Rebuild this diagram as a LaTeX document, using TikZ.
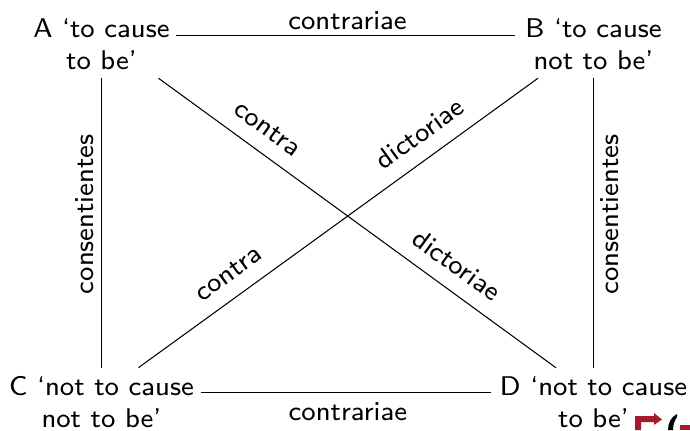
\documentclass[tikz,border=0pt]{standalone}
\usepackage{tikz}
\usetikzlibrary{calc}
\definecolor{logoRed}{HTML}{A6192E}
\tikzset{
  cornerBox/.style={
    align=center,
    font=\fontsize{7.7}{9.1}\selectfont\sffamily,
    inner xsep=0pt,
    inner ysep=0.08cm
  },
  squareEdge/.style={black, line width=0.3pt},
  edgeLabel/.style={font=\fontsize{7.7}{9.1}\selectfont\sffamily, inner sep=2pt},
  diagLabel/.style={edgeLabel, sloped, above, inner sep=4.2pt}
}

\begin{document}
\begin{tikzpicture}[x=1cm,y=1cm]
  \useasboundingbox (0,0) rectangle (6.9,4.3);
  \node[cornerBox] (a) at (1.015,3.86) {A `to cause\\to be'};
  \node[cornerBox] (b) at (5.935,3.86) {B `to cause\\not to be'};
  \node[cornerBox] (c) at (1.015,0.28) {C `not to cause\\not to be'};
  \node[cornerBox] (d) at (5.935,0.28) {D `not to cause\\to be'};

  \draw[squareEdge] ([xshift=0.06cm,yshift=0.085cm]a.east) -- node[edgeLabel, above, xshift=0.02cm, yshift=-0.02cm] {contrariae} ([xshift=-0.1cm,yshift=0.085cm]b.west);
  \draw[squareEdge] ([xshift=0.06cm,yshift=0.095cm]c.east) -- node[edgeLabel, below, xshift=0.02cm, yshift=-0.03cm] {contrariae} ([xshift=-0.08cm,yshift=0.095cm]d.west);
  \draw[squareEdge] (c.north) -- node[edgeLabel, sloped, above, pos=0.53] {consentientes} (a.south);
  \draw[squareEdge] (d.north) -- node[edgeLabel, sloped, below, pos=0.53] {consentientes} (b.south);

  \draw[squareEdge] ([xshift=0.57cm]a.south) -- node[diagLabel, pos=0.24] {contra}
    node[diagLabel, pos=0.714] {dictoriae} ([xshift=-0.375cm]d.north);
  \draw[squareEdge] ([xshift=-0.555cm]b.south) -- node[diagLabel, pos=0.26] {dictoriae}
    node[diagLabel, pos=0.74] {contra} ([xshift=0.37cm]c.north);

  % logo cut off by the page edge
  \fill[logoRed] (6.35,0) -- (6.35,0.14) -- (6.54,0.14) -- (6.54,0.17) -- (6.62,0.105)
    -- (6.54,0.05) -- (6.54,0.08) -- (6.41,0.08) -- (6.41,0) -- cycle;
  \fill[black] (6.77,0.16) .. controls (6.71,0.13) and (6.68,0.07) .. (6.68,0)
    -- (6.73,0) .. controls (6.73,0.06) and (6.75,0.1) .. (6.77,0.13) -- cycle;
  \fill[logoRed] (6.8,0) rectangle (6.9,0.05);
\end{tikzpicture}
\end{document}
